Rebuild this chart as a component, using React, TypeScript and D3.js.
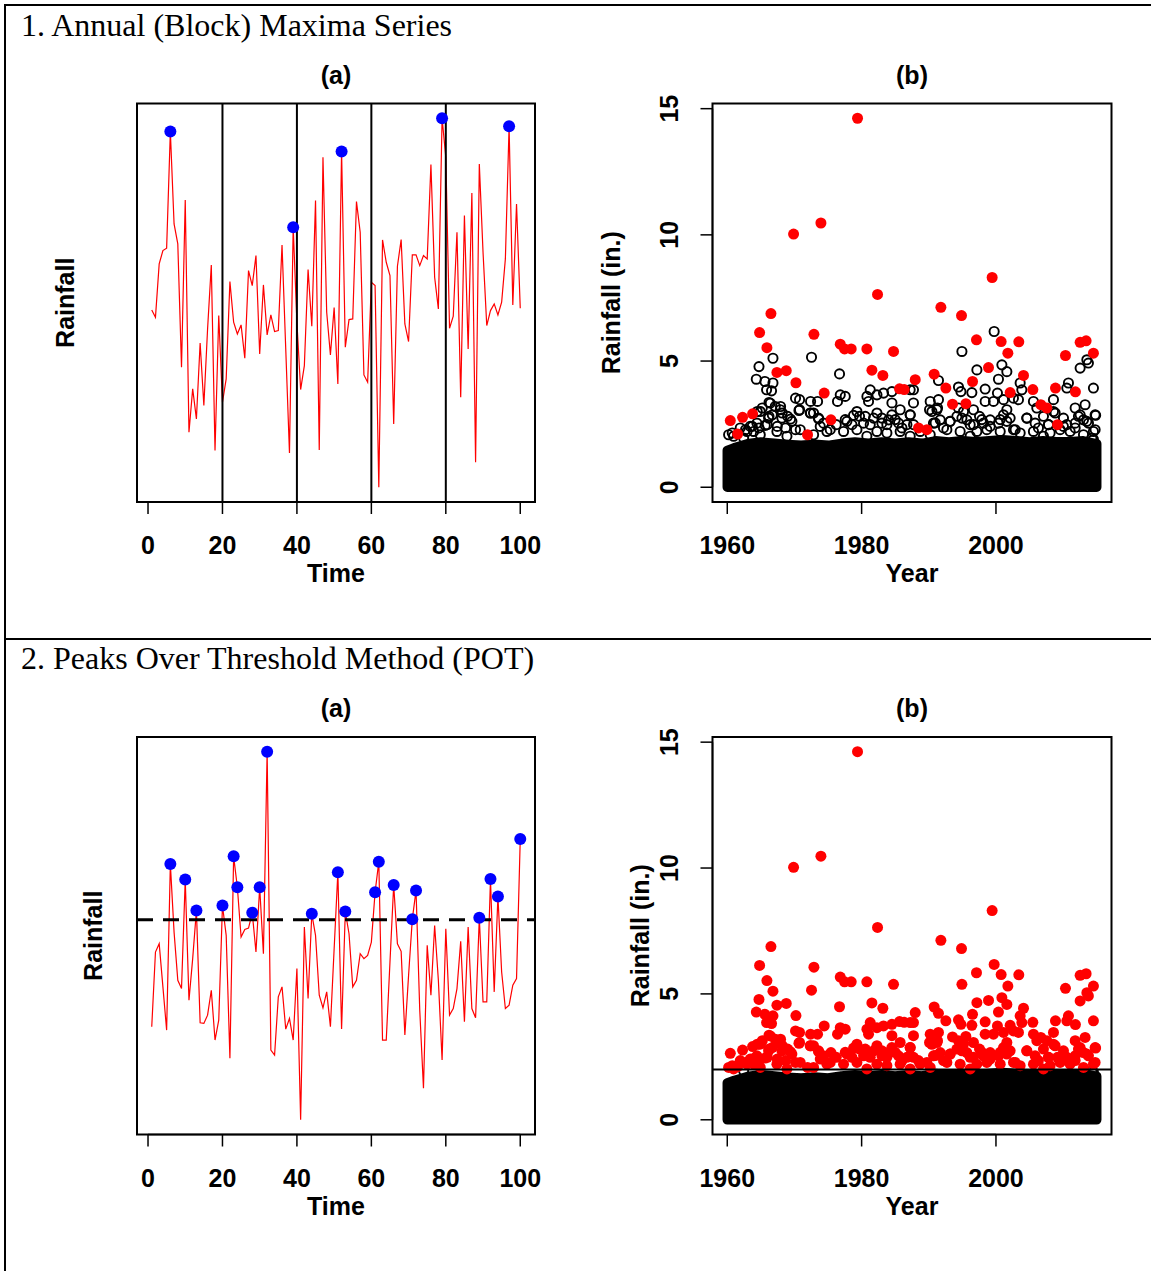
import React from "react";
import * as d3 from "d3";

// ---------- DATA ----------
// Panel 1(a): synthetic series (relative rainfall units), index 1..100
const blockSeries = [
  5.57, 5.35, 6.95, 7.35, 7.42, 10.92, 8.15, 7.55, 3.85, 8.87,
  1.9, 3.2, 2.3, 4.58, 2.7, 5.0, 6.92, 1.35, 5.4, 2.8,
  3.5, 6.42, 5.2, 4.85, 5.12, 4.12, 6.75, 6.3, 7.2, 4.25,
  6.32, 4.82, 5.42, 4.92, 4.95, 7.52, 4.4, 1.28, 8.05, 5.2,
  3.18, 3.9, 6.78, 5.08, 8.85, 1.37, 10.15, 5.5, 4.22, 5.64,
  3.35, 10.32, 4.45, 5.28, 5.3, 8.82, 7.9, 3.62, 3.4, 6.4,
  6.3, 0.25, 7.67, 7.0, 6.6, 2.15, 6.88, 7.68, 5.15, 4.62,
  7.22, 7.22, 6.9, 7.2, 7.1, 9.93, 6.55, 5.6, 11.32, 10.15,
  5.02, 5.38, 7.9, 2.95, 8.4, 4.4, 9.08, 1.0, 9.95, 7.3,
  5.1, 5.55, 5.75, 5.42, 5.8, 7.1, 11.08, 5.72, 8.75, 5.62,
];
const blockBreaks = [20, 40, 60, 80];
const blockSize = 20;

// Panel 2(a): synthetic series, index 1..100
const potSeries = [
  2.95, 5.2, 5.45, 4.15, 2.85, 7.85, 5.8, 4.35, 4.1, 7.38,
  3.75, 5.0, 6.45, 3.07, 3.05, 3.3, 4.05, 2.55, 3.15, 6.6,
  5.7, 2.0, 8.08, 7.15, 5.65, 5.88, 5.92, 6.38, 5.2, 7.15,
  5.15, 11.23, 2.25, 2.1, 3.85, 4.15, 2.88, 3.2, 2.55, 4.7,
  0.15, 5.95, 3.8, 6.35, 5.7, 3.9, 3.52, 4.0, 2.95, 5.3,
  7.6, 2.88, 6.42, 5.75, 4.15, 4.35, 5.15, 5.0, 5.1, 5.5,
  7.0, 7.92, 2.55, 2.55, 4.9, 7.22, 5.45, 5.22, 2.7, 4.5,
  6.19, 7.05, 3.45, 1.1, 5.4, 3.9, 6.0, 4.35, 1.95, 5.9,
  3.3, 3.5, 4.1, 5.52, 3.1, 5.95, 3.5, 3.22, 6.23, 3.7,
  3.7, 7.4, 4.0, 6.87, 4.6, 3.5, 3.6, 4.2, 4.4, 8.6,
];
const potThreshold = 6.17;
const timeTicks = [0, 20, 40, 60, 80, 100];

// Panels (b): daily rainfall 1960-2014
const annualMaxYear = [
  1960.45, 1961.54, 1962.28, 1963.77, 1964.81, 1965.9, 1966.5, 1967.39, 1968.78, 1969.87,
  1970.22, 1971.95, 1972.9, 1973.94, 1974.43, 1975.43, 1976.82, 1977.46, 1978.45, 1979.39,
  1980.78, 1981.53, 1982.37, 1983.16, 1984.75, 1985.64, 1986.34, 1987.98, 1988.47, 1989.71,
  1990.8, 1991.8, 1992.54, 1993.53, 1994.87, 1995.52, 1996.51, 1997.1, 1998.89, 1999.43,
  2000.77, 2001.77, 2002.11, 2003.4, 2004.1, 2005.49, 2006.68, 2007.57, 2008.86, 2009.16,
  2010.35, 2011.83, 2012.53, 2013.42, 2014.51,
];
const annualMaxValue = [
  2.64, 2.11, 2.77, 2.91, 6.13, 5.53, 6.88, 4.55, 4.62, 10.03,
  4.14, 2.08, 6.06, 10.47, 3.73, 2.67, 5.67, 5.48, 5.48, 14.62,
  5.48, 4.64, 7.64, 4.43, 5.38, 3.9, 3.87, 4.26, 2.35, 2.28,
  4.48, 7.13, 3.93, 3.29, 6.8, 3.31, 4.19, 5.84, 4.74, 8.31,
  5.77, 5.31, 3.75, 5.76, 4.43, 3.87, 3.27, 3.14, 3.93, 2.48,
  5.22, 3.78, 5.74, 5.8, 5.31,
];
// individually visible daily values (above the solid mass)
const dailyYear = [
  1966.8, 1964.72, 1964.32, 1965.61, 1966.8, 1965.85, 1966.59, 1972.54, 1970.16, 1970.76,
  1972.4, 1970.67, 1972.4, 1966.21, 1967.93, 1965.21, 1964.46, 1966.7, 1968.18, 1969.42,
  1963.72, 1964.72, 1965.95, 1967.44, 1968.68, 1960.74, 1962.72, 1970.16, 1966.21, 1976.71,
  1973.44, 1976.41, 1976.82, 1977.56, 1980.79, 1981.28, 1982.28, 1983.26, 1984.51, 1984.51,
  1985.74, 1987.23, 1981.03, 1973.59, 1972.84, 1977.56, 1979.3, 1980.54, 1982.28, 1983.02,
  1985.0, 1987.23, 1973.84, 1978.56, 1981.28, 1983.76, 1986.0, 1975.33, 1999.73, 1994.93,
  1997.16, 2000.88, 2001.62, 2000.37, 1991.44, 1994.42, 1994.78, 1996.41, 1998.39, 2000.22,
  1987.72, 1990.21, 1991.44, 1987.72, 1990.46, 1991.21, 1994.42, 1996.65, 1998.39, 1999.63,
  2001.12, 2001.62, 2000.63, 1997.9, 1993.18, 1994.93, 1990.95, 1999.14, 1996.16, 1992.19,
  2012.53, 2013.76, 2013.53, 2014.51, 2010.79, 2010.55, 2003.6, 2003.85, 2003.35, 2002.6,
  2005.58, 2008.56, 2011.79, 2013.27, 2012.53, 2014.76, 2013.53, 2014.76, 2008.81, 2004.6,
  2007.81, 2006.32, 2001.62, 2002.86, 2010.04, 2011.79, 2014.51,
  1960.2, 1961.93, 1962.93, 1963.92, 1963.42, 1964.41, 1965.65, 1966.15, 1968.98, 1969.62,
  1968.13, 1973.59, 1974.33, 1976.22, 1977.81, 1978.8, 1979.69, 1980.29, 1981.78, 1983.02,
  1984.01, 1984.5, 1985.5, 1986.74, 1987.73, 1990.7, 1991.7, 1993.18, 1994.18, 1995.17,
  1995.67, 1996.66, 1997.55, 1998.14, 1999.14, 2000.38, 2001.12, 2002.11, 2004.59, 2005.83,
  2007.07, 2007.82, 2010.05, 2010.55, 2011.79, 2013.03, 2013.77, 2014.51, 2014.84, 2012.28,
  1964.91, 1966.4, 1967.14, 1967.89, 1970.76, 1972.35, 1987.23, 1990.11, 1991.3, 2008.56,
  2006.08,
  1960.94, 1962.43, 1964.91, 1967.39, 1968.88, 1970.86, 1972.85, 1974.83, 1977.31, 1979.3,
  1980.78, 1982.27, 1983.76, 1985.74, 1987.23, 1988.72, 1990.21, 1992.69, 1994.67, 1996.16,
  1997.15, 1998.64, 2000.63, 2002.61, 2003.6, 2005.58, 2007.07, 2008.06, 2009.55, 2011.04,
  2013.03, 2014.27,
];
const dailyValue = [
  5.11, 4.78, 4.28, 4.19, 4.13, 3.86, 3.82, 5.15, 3.53, 3.47,
  3.4, 3.04, 2.94, 3.36, 3.2, 3.14, 3.0, 2.87, 2.94, 2.7,
  2.41, 2.35, 2.48, 2.41, 2.35, 2.15, 2.28, 2.28, 2.81, 4.49,
  3.4, 3.4, 3.66, 3.6, 3.6, 3.86, 3.66, 3.73, 3.79, 3.34,
  3.07, 3.86, 3.4, 2.74, 2.94, 2.68, 3.0, 2.81, 2.94, 2.74,
  2.68, 2.87, 2.41, 2.48, 2.48, 2.48, 2.35, 2.28, 6.17, 5.38,
  4.65, 4.85, 4.58, 4.28, 4.23, 3.97, 3.79, 3.75, 3.89, 3.73,
  3.86, 3.4, 3.47, 3.34, 3.0, 3.07, 3.14, 3.07, 3.4, 3.4,
  3.47, 3.07, 2.68, 2.68, 2.61, 2.74, 2.55, 2.41, 2.48, 2.35,
  4.72, 4.92, 5.05, 3.93, 4.13, 3.93, 4.13, 3.86, 3.47, 3.53,
  3.4, 3.47, 3.14, 3.27, 2.87, 2.87, 2.61, 2.28, 2.94, 2.74,
  2.48, 2.35, 2.61, 2.28, 2.41, 2.35, 1.89,
  2.08, 2.35, 2.21, 2.21, 2.41, 2.54, 2.45, 2.74, 2.81, 2.61,
  2.74, 2.71, 2.54, 2.48, 2.61, 2.85, 2.81, 2.54, 2.74, 2.54,
  2.67, 2.87, 2.54, 2.48, 2.48, 2.54, 2.67, 2.61, 2.81, 3.0,
  2.67, 2.48, 2.81, 2.54, 2.67, 2.54, 2.87, 2.74, 2.74, 2.54,
  2.81, 2.48, 2.74, 2.48, 2.54, 2.67, 2.54, 2.21, 2.85, 2.81,
  3.0, 3.33, 3.2, 3.07, 3.07, 2.94, 2.87, 3.07, 3.14, 3.0,
  3.14,
  2.02, 1.95, 2.08, 2.21, 2.02, 2.28, 2.08, 2.21, 2.21, 2.28,
  2.02, 2.21, 2.15, 2.21, 2.02, 2.21, 2.08, 2.28, 2.21, 2.02,
  2.21, 2.28, 2.21, 2.28, 2.15, 2.21, 2.02, 2.15, 2.28, 2.21,
  2.08, 1.95,
];
// upper edge of the solid mass of overlapping daily points
const bandYear = [
  1960, 1961, 1963, 1965, 1967, 1969, 1971, 1973, 1975, 1977,
  1979, 1981, 1983, 1985, 1987, 1989, 1991, 1993, 1995, 1997,
  1999, 2001, 2003, 2005, 2007, 2009, 2011, 2013, 2015,
];
const bandTop = [
  1.46, 1.56, 1.72, 1.79, 1.74, 1.69, 1.66, 1.7, 1.66, 1.74,
  1.79, 1.74, 1.79, 1.74, 1.79, 1.74, 1.84, 1.79, 1.84, 1.8,
  1.84, 1.88, 1.84, 1.79, 1.84, 1.8, 1.8, 1.84, 1.72,
];
const yearTicks = [1960, 1980, 2000];
const rainTicks = [0, 5, 10, 15];
const rainThreshold = 2;

// ---------- LAYOUT ----------
const W = 1151;
const H = 1271;
const SANS = "'Liberation Sans', Arial, sans-serif";
const SERIF = "'Liberation Serif', 'Times New Roman', serif";
const LEFT_BOX = { x0: 137, x1: 535 };
const RIGHT_BOX = { x0: 712.5, x1: 1111.5 };
const ROWS = [
  { y0: 103.5, y1: 502 },
  { y0: 737, y1: 1134.5 },
];

function rPad(ext: [number, number]): [number, number] {
  const p = (ext[1] - ext[0]) * 0.04;
  return [ext[0] - p, ext[1] + p];
}

function Frame({ box, title }: any) {
  return (
    <g>
      <rect x={box.x0} y={box.y0} width={box.x1 - box.x0} height={box.y1 - box.y0}
        fill="none" stroke="#000" strokeWidth={2} />
      <text x={(box.x0 + box.x1) / 2} y={box.y0 - 20} textAnchor="middle"
        fontFamily={SANS} fontWeight="bold" fontSize={25}>{title}</text>
    </g>
  );
}

function XAxis({ box, x, ticks, label }: any) {
  return (
    <g>
      <line x1={x(ticks[0])} x2={x(ticks[ticks.length - 1])} y1={box.y1} y2={box.y1} stroke="#000" strokeWidth={1.5} />
      {ticks.map((t: number) => (
        <g key={t}>
          <line x1={x(t)} x2={x(t)} y1={box.y1} y2={box.y1 + 12} stroke="#000" strokeWidth={1.5} />
          <text x={x(t)} y={box.y1 + 52} textAnchor="middle" fontFamily={SANS}
            fontWeight="bold" fontSize={25}>{t}</text>
        </g>
      ))}
      <text x={(box.x0 + box.x1) / 2} y={box.y1 + 80} textAnchor="middle" fontFamily={SANS}
        fontWeight="bold" fontSize={25}>{label}</text>
    </g>
  );
}

function YAxisRain({ box, y }: any) {
  return (
    <g>
      <line x1={box.x0} x2={box.x0} y1={y(rainTicks[0])} y2={y(rainTicks[rainTicks.length - 1])} stroke="#000" strokeWidth={1.5} />
      {rainTicks.map((t) => (
        <g key={t}>
          <line x1={box.x0 - 12} x2={box.x0} y1={y(t)} y2={y(t)} stroke="#000" strokeWidth={1.5} />
          <text transform={`translate(${box.x0 - 35},${y(t)}) rotate(-90)`} textAnchor="middle"
            fontFamily={SANS} fontWeight="bold" fontSize={25}>{t}</text>
        </g>
      ))}
    </g>
  );
}

function YLabel({ x, y, text }: any) {
  return (
    <text transform={`translate(${x},${y}) rotate(-90)`} textAnchor="middle"
      fontFamily={SANS} fontWeight="bold" fontSize={25}>{text}</text>
  );
}

function SeriesPanel({ box, series, mode }: any) {
  const idx = series.map((_: number, i: number) => i + 1);
  const x = d3.scaleLinear().domain(rPad([1, series.length])).range([box.x0, box.x1]);
  const y = d3.scaleLinear().domain(rPad(d3.extent(series) as [number, number])).range([box.y1, box.y0]);
  const line = d3.line<number>().x((_, i) => x(idx[i])).y((v) => y(v));
  let peaks: number[] = [];
  if (mode === "block") {
    for (let b = 0; b < series.length; b += blockSize) {
      const seg = series.slice(b, b + blockSize);
      peaks.push(b + (d3.maxIndex(seg) as number));
    }
  } else {
    series.forEach((v: number, i: number) => { if (v > potThreshold) peaks.push(i); });
  }
  return (
    <g>
      <path d={line(series) || ""} fill="none" stroke="#ff0000" strokeWidth={1.2} />
      {mode === "block" && blockBreaks.map((b: number) => (
        <line key={b} x1={x(b)} x2={x(b)} y1={box.y0} y2={box.y1} stroke="#000" strokeWidth={2} />
      ))}
      {mode === "pot" && (
        <line x1={box.x0} x2={box.x1} y1={y(potThreshold)} y2={y(potThreshold)} stroke="#000"
          strokeWidth={3} strokeDasharray="16 10" />
      )}
      {peaks.map((i) => (
        <circle key={i} cx={x(idx[i])} cy={y(series[i])} r={6} fill="#0000ff" />
      ))}
      <XAxis box={box} x={x} ticks={timeTicks} label="Time" />
    </g>
  );
}

function DailyPanel({ box, mode }: any) {
  const xExt = d3.extent(bandYear) as [number, number];
  const x = d3.scaleLinear().domain(rPad(xExt)).range([box.x0, box.x1]);
  const yMax = d3.max(annualMaxValue) as number;
  const y = d3.scaleLinear().domain(rPad([0, yMax])).range([box.y1, box.y0]);
  const area = d3.area<number>().x((_, i) => x(bandYear[i])).y0(y(0)).y1((v) => y(v));
  const pts = dailyValue.map((v, i) => ({ yr: dailyYear[i], v }));
  const maxima = annualMaxValue.map((v, i) => ({ yr: annualMaxYear[i], v }));
  const isRed = (v: number) => mode === "pot" && v > rainThreshold;
  return (
    <g>
      <path d={area(bandTop) || ""} fill="#000" stroke="#000" strokeWidth={9.5} strokeLinejoin="round" />
      {pts.filter((p) => !isRed(p.v)).map((p, i) => (
        <circle key={"o" + i} cx={x(p.yr)} cy={y(p.v)} r={4.6} fill="none" stroke="#000" strokeWidth={1.9} />
      ))}
      {pts.filter((p) => isRed(p.v)).map((p, i) => (
        <circle key={"r" + i} cx={x(p.yr)} cy={y(p.v)} r={5.5} fill="#ff0000" />
      ))}
      {maxima.map((p, i) => (
        <circle key={"m" + i} cx={x(p.yr)} cy={y(p.v)} r={5.5} fill="#ff0000" />
      ))}
      {mode === "pot" && (
        <line x1={box.x0} x2={box.x1} y1={y(rainThreshold)} y2={y(rainThreshold)} stroke="#000" strokeWidth={2} />
      )}
      <XAxis box={box} x={x} ticks={yearTicks} label="Year" />
      <YAxisRain box={box} y={y} />
    </g>
  );
}

export default function App() {
  const b1a = { ...LEFT_BOX, ...ROWS[0] };
  const b1b = { ...RIGHT_BOX, ...ROWS[0] };
  const b2a = { ...LEFT_BOX, ...ROWS[1] };
  const b2b = { ...RIGHT_BOX, ...ROWS[1] };
  return (
    <svg width={W} height={H} style={{ position: "absolute", left: 0, top: 0, background: "#fff" }}>
      <rect x={0} y={0} width={W} height={H} fill="#fff" />
      {/* outer frame */}
      <line x1={4} x2={W} y1={5} y2={5} stroke="#000" strokeWidth={2} />
      <line x1={5} x2={5} y1={4} y2={H} stroke="#000" strokeWidth={2} />
      <line x1={4} x2={W} y1={639} y2={639} stroke="#000" strokeWidth={2} />
      <text x={21} y={36} fontFamily={SERIF} fontSize={32}>1. Annual (Block) Maxima Series</text>
      <text x={21} y={669} fontFamily={SERIF} fontSize={32}>2. Peaks Over Threshold Method (POT)</text>

      <SeriesPanel box={b1a} series={blockSeries} mode="block" />
      <Frame box={b1a} title="(a)" />
      <YLabel x={74} y={(b1a.y0 + b1a.y1) / 2} text="Rainfall" />

      <DailyPanel box={b1b} mode="block" />
      <Frame box={b1b} title="(b)" />
      <YLabel x={620} y={(b1b.y0 + b1b.y1) / 2} text="Rainfall (in.)" />

      <SeriesPanel box={b2a} series={potSeries} mode="pot" />
      <Frame box={b2a} title="(a)" />
      <YLabel x={102} y={(b2a.y0 + b2a.y1) / 2} text="Rainfall" />

      <DailyPanel box={b2b} mode="pot" />
      <Frame box={b2b} title="(b)" />
      <YLabel x={649} y={(b2b.y0 + b2b.y1) / 2} text="Rainfall (in.)" />
    </svg>
  );
}
